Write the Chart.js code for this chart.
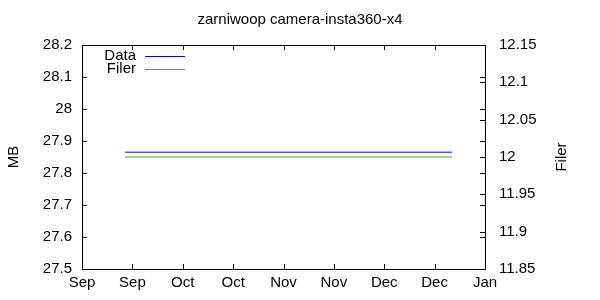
<!DOCTYPE html>
<html>
<head>
<meta charset="utf-8">
<script src="https://cdn.jsdelivr.net/npm/chart.js@4/dist/chart.umd.min.js"></script>
<style>
  html, body { margin: 0; padding: 0; background: #fff; }
</style>
</head>
<body>
<canvas id="grafica" width="600" height="300"></canvas>
<script>
// Datos (días desde el 1 de septiembre)
const tituloGrafica = 'zarniwoop camera-insta360-x4';
const tickDias = [0, 15.25, 30.5, 45.75, 61, 76.25, 91.5, 106.75, 122];
const tickEtiquetas = ['Sep', 'Sep', 'Oct', 'Oct', 'Nov', 'Nov', 'Dec', 'Dec', 'Jan'];
const dias = [13, 112];
const datosMB = [27.865, 27.865];
const filer = [12, 12];

const colorData = '#0000ff';
const colorFiler = '#20c020';

Chart.defaults.font.family = '"Liberation Sans", Arial, sans-serif';
Chart.defaults.font.size = 15;
Chart.defaults.color = '#000';

// Marco estilo gnuplot: caja, ticks hacia dentro, leyenda y título derecho
const marcoGnuplot = {
    id: 'marcoGnuplot',
    afterDraw(chart) {
        const ctx = chart.ctx;
        const a = chart.chartArea;
        const sx = chart.scales.x, sy = chart.scales.y, sy2 = chart.scales.y2;
        const largo = 5;
        ctx.save();
        ctx.strokeStyle = '#000';
        ctx.lineWidth = 1;
        ctx.beginPath();
        ctx.rect(Math.round(a.left) + 0.5, Math.round(a.top) + 0.5,
            Math.round(a.right - a.left), Math.round(a.bottom - a.top));
        // ticks eje x abajo y arriba
        sx.ticks.forEach(t => {
            const x = Math.round(sx.getPixelForValue(t.value)) + 0.5;
            ctx.moveTo(x, a.bottom); ctx.lineTo(x, a.bottom - largo);
            ctx.moveTo(x, a.top); ctx.lineTo(x, a.top + largo);
        });
        // ticks eje y izquierdo (y espejo a la derecha)
        sy.ticks.forEach(t => {
            const y = Math.round(sy.getPixelForValue(t.value)) + 0.5;
            ctx.moveTo(a.left, y); ctx.lineTo(a.left + largo, y);
            ctx.moveTo(a.right, y); ctx.lineTo(a.right - largo, y);
        });
        // ticks eje y2
        sy2.ticks.forEach(t => {
            const y = Math.round(sy2.getPixelForValue(t.value)) + 0.5;
            ctx.moveTo(a.right, y); ctx.lineTo(a.right - largo, y);
        });
        ctx.stroke();

        // leyenda
        const items = [['Data', colorData], ['Filer', colorFiler]];
        ctx.font = '15px "Liberation Sans", Arial, sans-serif';
        ctx.textAlign = 'right';
        ctx.textBaseline = 'middle';
        items.forEach((it, i) => {
            const y = a.top + 11 + i * 13;
            ctx.fillStyle = '#000';
            ctx.fillText(it[0], a.left + 54, y);
            ctx.strokeStyle = it[1];
            ctx.beginPath();
            ctx.moveTo(a.left + 63, Math.round(y) + 0.5);
            ctx.lineTo(a.left + 103, Math.round(y) + 0.5);
            ctx.stroke();
        });

        // título del eje derecho
        ctx.translate(562, (a.top + a.bottom) / 2);
        ctx.rotate(-Math.PI / 2);
        ctx.textAlign = 'center';
        ctx.fillStyle = '#000';
        ctx.fillText('Filer', 0, 0);
        ctx.restore();
    }
};

const fmt = v => String(+(+v).toFixed(2));

const ctx = document.getElementById('grafica').getContext('2d');
new Chart(ctx, {
    type: 'line',
    data: {
        labels: dias,
        datasets: [{
            label: 'Data',
            data: dias.map((d, i) => ({ x: d, y: datosMB[i] })),
            borderColor: colorData,
            borderWidth: 1,
            pointRadius: 0,
            fill: false,
            yAxisID: 'y'
        }, {
            label: 'Filer',
            data: dias.map((d, i) => ({ x: d, y: filer[i] })),
            borderColor: colorFiler,
            borderWidth: 1,
            pointRadius: 0,
            fill: false,
            yAxisID: 'y2'
        }]
    },
    options: {
        responsive: false,
        animation: false,
        devicePixelRatio: 1,
        layout: { padding: 0 },
        plugins: {
            legend: { display: false },
            tooltip: { enabled: false },
            title: {
                display: true,
                text: tituloGrafica,
                font: { size: 15, weight: 'normal' },
                padding: { top: 11, bottom: 16 }
            }
        },
        scales: {
            x: {
                type: 'linear',
                min: 0,
                max: 122,
                afterBuildTicks: s => { s.ticks = tickDias.map(v => ({ value: v })); },
                afterFit: s => { s.height = 31; },
                grid: { display: false, drawTicks: false },
                border: { display: false },
                ticks: {
                    padding: 5,
                    maxRotation: 0,
                    autoSkip: false,
                    callback: (v, i) => tickEtiquetas[i]
                }
            },
            y: {
                position: 'left',
                min: 27.5,
                max: 28.2,
                afterFit: s => { s.width = 82; },
                grid: { display: false, drawTicks: false },
                border: { display: false },
                ticks: { stepSize: 0.1, padding: 10, callback: fmt },
                title: { display: true, text: 'MB', font: { size: 15 }, padding: { top: 5 } }
            },
            y2: {
                position: 'right',
                min: 11.85,
                max: 12.15,
                afterFit: s => { s.width = 115; },
                grid: { display: false, drawTicks: false },
                border: { display: false },
                ticks: { stepSize: 0.05, padding: 14, callback: fmt }
            }
        }
    },
    plugins: [marcoGnuplot]
});
</script>
</body>
</html>
